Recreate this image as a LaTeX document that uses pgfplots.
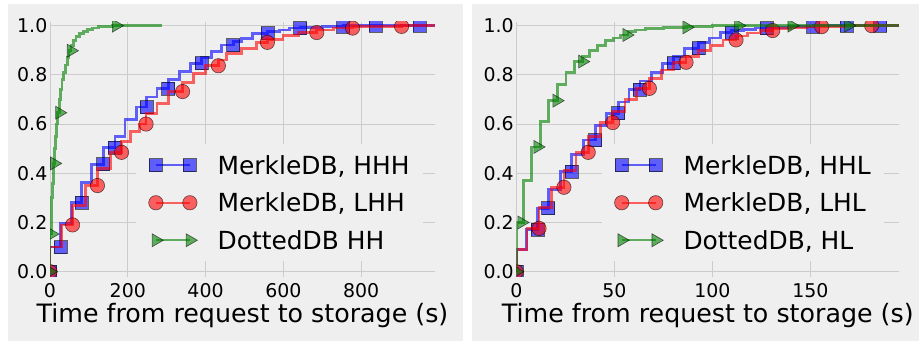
\documentclass[border=0pt]{standalone}
\usepackage{fontspec}
\setmainfont{DejaVu Sans}
\usepackage{pgfplots}
\pgfplotsset{compat=1.18}

\definecolor{bgc}{RGB}{239,239,239}
\definecolor{gridc}{RGB}{204,204,204}
\definecolor{cblue}{RGB}{0,0,255}
\definecolor{cred}{RGB}{255,0,0}
\definecolor{cgreen}{RGB}{0,128,0}

\pgfplotsset{
  panel/.style={
    scale only axis,
    height=254.9bp,
    clip marker paths=true,
    axis line style={draw=none},
    major tick length=0pt,
    grid=major,
    major grid style={draw=gridc, line width=1bp},
    ymin=-0.02, ymax=1.016,
    ytick={0,0.2,0.4,0.6,0.8,1},
    /pgf/number format/assume math mode=true,
    tick label style={font=\fontsize{19}{19}\selectfont},
    yticklabel style={/pgf/number format/fixed, /pgf/number format/fixed zerofill, /pgf/number format/precision=1, anchor=east, inner sep=0pt, xshift=-2.5bp},
    xticklabel style={anchor=base, inner sep=0pt, yshift=-21bp},
    xlabel={Time from request to storage (s)},
    xlabel style={font=\fontsize{25.4}{25.4}\selectfont, at={(axis description cs:0.5,0)}, anchor=base, yshift=-46.3bp, inner sep=0pt},
    legend cell align=left,
    legend style={draw=none, fill=bgc, at={(axis description cs:0.222,0.5204)}, anchor=north west,
      font=\fontsize{25}{25}\selectfont, inner xsep=13bp, inner ysep=12bp, row sep=19.3bp, column sep=20.3bp,
      nodes={inner sep=0pt, text height=18.2bp, text depth=0bp}},
    legend image code/.code={\draw[#1] plot coordinates {(0bp,0bp) (34bp,0bp)};},
  },
  stepline/.style={const plot mark right, line width=2.8bp, draw opacity=0.6, mark=none, #1},
  bmark/.style={only marks, mark=square*, mark size=6.5bp, opacity=0.6, mark options={fill=cblue, draw=black, line width=0.6bp}},
  rmark/.style={only marks, mark=*, mark size=7.2bp, opacity=0.6, mark options={fill=cred, draw=black, line width=0.6bp}},
  gmark/.style={only marks, mark=triangle*, mark size=7.5bp, opacity=0.6, mark options={fill=cgreen, draw=black, line width=0.6bp, rotate=-90}},
  bleg/.style={cblue, line width=2.2bp, opacity=0.6, mark=square*, mark size=6.5bp, mark options={fill=cblue, draw=black, line width=0.6bp}},
  rleg/.style={cred, line width=2.2bp, opacity=0.6, mark=*, mark size=7.2bp, mark options={fill=cred, draw=black, line width=0.6bp}},
  gleg/.style={cgreen, line width=2.2bp, opacity=0.6, mark=triangle*, mark size=7.5bp, mark options={fill=cgreen, draw=black, line width=0.6bp, rotate=-90}},
}

\begin{document}
\begin{tikzpicture}
\useasboundingbox (0,0) rectangle (919bp,342bp);
\fill[white] (0,0) rectangle (919bp,342bp);
\fill[bgc] (8bp,1bp) rectangle (463bp,338bp);
\fill[bgc] (472bp,1bp) rectangle (919bp,338bp);

% ---------------- left panel ----------------
\begin{axis}[panel, at={(50bp,65.4bp)}, anchor=south west, width=385bp,
  xmin=0, xmax=990, xtick={0,200,400,600,800}]
\addlegendimage{bleg}\addlegendentry{MerkleDB, HHH}
\addlegendimage{rleg}\addlegendentry{MerkleDB, LHH}
\addlegendimage{gleg}\addlegendentry{DottedDB HH}

\addplot[stepline={cblue}, forget plot] coordinates {
(0,0)(27,0.1)(56,0.197)(81,0.28)(107,0.362)(137,0.437)(167,0.505)(193,0.549)(222,0.617)(248,0.669)
(275,0.71)(304,0.745)(334,0.78)(362,0.813)(390,0.847)(415,0.87)(441,0.894)(471,0.921)(493,0.935)
(520,0.949)(559,0.969)(591,0.975)(615,0.982)(643,0.99)(700,0.993)(754,0.996)(838,1.0)(951,1.0)(990,1.0)};
\addplot[bmark, forget plot] coordinates {
(0,0)(27,0.1)(81,0.28)(137,0.437)(167,0.505)(248,0.669)(304,0.745)(390,0.847)(471,0.921)(559,0.969)
(643,0.99)(754,0.996)(838,1.0)(951,1.0)};

\addplot[stepline={cred}, forget plot] coordinates {
(0,0)(30,0.1)(58,0.19)(92,0.27)(122,0.35)(155,0.42)(184,0.485)(206,0.53)(231,0.57)(247,0.6)(275,0.644)
(304,0.685)(341,0.732)(368,0.77)(400,0.805)(433,0.837)(454,0.86)(493,0.888)(531,0.907)(559,0.932)
(599,0.945)(640,0.96)(686,0.972)(730,0.982)(778,0.99)(850,0.995)(904,0.997)(950,1.0)(990,1.0)};
\addplot[rmark, forget plot] coordinates {
(0,0)(58,0.19)(122,0.35)(184,0.485)(247,0.6)(341,0.732)(433,0.837)(559,0.932)(686,0.972)(778,0.99)(904,0.997)};

\addplot[stepline={cgreen}, forget plot] coordinates {
(0,0)(4,0.153)(6,0.3)(8,0.36)(11,0.44)(14,0.5)(17,0.55)(20,0.6)(24,0.646)(27,0.7)(31,0.74)(35,0.78)
(40,0.81)(44,0.84)(49,0.87)(54,0.898)(60,0.92)(67,0.94)(76,0.955)(86,0.967)(96,0.975)(110,0.985)
(125,0.99)(140,0.995)(160,0.998)(170,1.0)(287,1.0)};
\addplot[gmark, forget plot] coordinates {
(0,0)(4,0.153)(11,0.44)(24,0.646)(54,0.898)(170,1.0)};
\end{axis}

% ---------------- right panel ----------------
\begin{axis}[panel, at={(516.3bp,65.4bp)}, anchor=south west, width=383bp,
  xmin=0, xmax=195.4, xtick={0,50,100,150}]
\addlegendimage{bleg}\addlegendentry{MerkleDB, HHL}
\addlegendimage{rleg}\addlegendentry{MerkleDB, LHL}
\addlegendimage{gleg}\addlegendentry{DottedDB, HL}

\addplot[stepline={cblue}, forget plot] coordinates {
(0,0)(5.3,0.09)(10.9,0.17)(16.3,0.258)(22.5,0.335)(28.3,0.407)(34.3,0.475)(40.2,0.535)(46,0.595)
(52,0.644)(57.5,0.69)(63.1,0.739)(69,0.775)(74.5,0.81)(80.1,0.847)(86,0.875)(92.9,0.908)(98.5,0.93)
(104,0.95)(109.9,0.972)(116,0.98)(122,0.985)(127.8,0.99)(140,0.993)(151.5,0.996)(168.6,1.0)(185.6,1.0)(195.4,1.0)};
\addplot[bmark, forget plot] coordinates {
(0,0)(10.9,0.17)(16.3,0.258)(28.3,0.407)(40.2,0.535)(52,0.644)(63.1,0.739)(80.1,0.847)(92.9,0.908)
(109.9,0.972)(127.8,0.99)(151.5,0.996)(168.6,1.0)(185.6,1.0)};

\addplot[stepline={cred}, forget plot] coordinates {
(0,0)(5.5,0.09)(11.6,0.176)(18,0.26)(24.3,0.343)(30.5,0.41)(36.7,0.485)(43,0.55)(49.2,0.606)(55.5,0.65)
(61.5,0.7)(67.9,0.745)(74,0.785)(80,0.82)(86.6,0.851)(93,0.875)(99,0.9)(105.5,0.92)(112.1,0.942)
(118,0.958)(124.5,0.97)(130.8,0.98)(140,0.988)(148,0.993)(155.8,0.996)(168,0.998)(181.3,1.0)(195.4,1.0)};
\addplot[rmark, forget plot] coordinates {
(0,0)(11.6,0.176)(24.3,0.343)(36.7,0.485)(49.2,0.606)(67.9,0.745)(86.6,0.851)(112.1,0.942)(130.8,0.98)
(155.8,0.996)(181.3,1.0)};

\addplot[stepline={cgreen}, forget plot] coordinates {
(0,0)(3.6,0.2)(7.8,0.37)(12.4,0.507)(16.3,0.61)(21,0.695)(25.4,0.76)(29.5,0.81)(33.7,0.854)(37.5,0.875)
(41.5,0.9)(45.5,0.92)(49.5,0.94)(53,0.95)(57,0.962)(61,0.975)(66,0.982)(75,0.988)(87,0.993)(100,0.997)
(113.3,1.0)(195.4,1.0)};
\addplot[gmark, forget plot] coordinates {
(0,0)(2.7,0.2)(10.9,0.507)(20.6,0.695)(33.7,0.854)(56.3,0.962)(86.9,0.993)(113.3,1.0)(140.5,1.0)(169.4,1.0)};
\end{axis}
\end{tikzpicture}
\end{document}
